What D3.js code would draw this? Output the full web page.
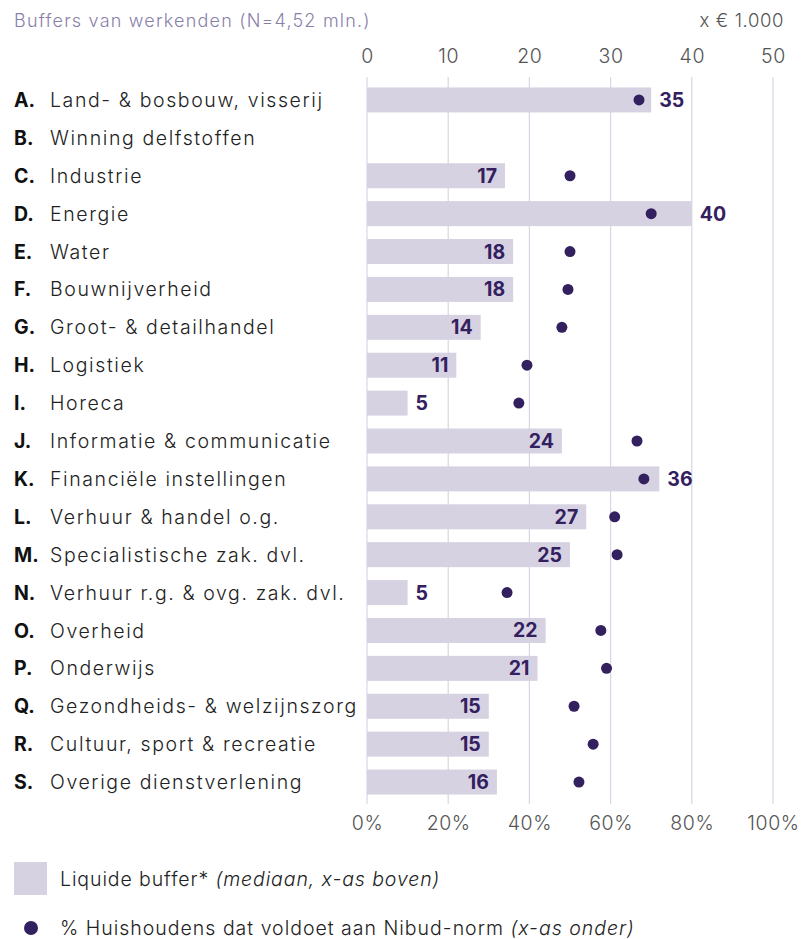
<!DOCTYPE html>
<html>
<head>
<meta charset="utf-8">
<script src="https://cdn.jsdelivr.net/npm/d3@7"></script>
<style>
  body { margin: 0; background: #fff; }
  svg { display: block; font-family: "Inter", "Lato", sans-serif; }
</style>
</head>
<body>
<svg id="chart" width="803" height="939"></svg>
<script>
// Sector codes and names
const codes = ["A.", "B.", "C.", "D.", "E.", "F.", "G.", "H.", "I.", "J.", "K.", "L.", "M.", "N.", "O.", "P.", "Q.", "R.", "S."];
const sectors = [
  "Land- & bosbouw, visserij", "Winning delfstoffen", "Industrie", "Energie", "Water",
  "Bouwnijverheid", "Groot- & detailhandel", "Logistiek", "Horeca", "Informatie & communicatie",
  "Financiële instellingen", "Verhuur & handel o.g.", "Specialistische zak. dvl.",
  "Verhuur r.g. & ovg. zak. dvl.", "Overheid", "Onderwijs", "Gezondheids- & welzijnszorg",
  "Cultuur, sport & recreatie", "Overige dienstverlening"
];
// Median liquid buffer (x € 1.000); null = not shown
const buffer = [35, null, 17, 40, 18, 18, 14, 11, 5, 24, 36, 27, 25, 5, 22, 21, 15, 15, 16];
// Share of households meeting the Nibud norm (%)
const nibud = [67, null, 50, 70, 50, 49.5, 48, 39.4, 37.4, 66.5, 68.2, 61, 61.6, 34.5, 57.6, 59, 51, 55.7, 52.2];
// Axis ticks
const topTicks = [0, 10, 20, 30, 40, 50];
const bottomTicks = [0, 20, 40, 60, 80, 100];

const svg = d3.select("#chart");
const purple = "#33205f";
const barFill = "#d6d2e2";
const gridCol = "#d9d5e5";
const track = 1.6;

const x0 = 367, x1 = 773;
const xTop = d3.scaleLinear().domain([0, 50]).range([x0, x1]);
const xBot = d3.scaleLinear().domain([0, 100]).range([x0, x1]);
const y = d3.scaleBand().domain(d3.range(codes.length)).range([81, 801]);
const barH = 25;

// Title and unit
svg.append("text").attr("x", 14).attr("y", 27).attr("font-size", 18).attr("font-weight", 300)
  .attr("letter-spacing", 1.2).attr("fill", "#8a7fa9").text("Buffers van werkenden (N=4,52 mln.)");
svg.append("text").attr("x", 784).attr("y", 27).attr("text-anchor", "end").attr("font-size", 18.5)
  .attr("font-weight", 300).attr("letter-spacing", 0.6).attr("fill", "#555").text("x € 1.000");

// Gridlines
svg.append("g").selectAll("line").data(topTicks).join("line")
  .attr("x1", d => xTop(d)).attr("x2", d => xTop(d))
  .attr("y1", 77).attr("y2", 804)
  .attr("stroke", gridCol).attr("stroke-width", 1.2);

function styleTicks(g) {
  g.select(".domain").remove();
  g.selectAll("text").attr("font-size", 19.5).attr("font-weight", 300).attr("fill", "#555")
    .attr("font-family", "Inter, sans-serif").attr("letter-spacing", 0.6);
}

// Top axis (buffer)
const gTop = svg.append("g").attr("transform", "translate(0,63)")
  .call(d3.axisTop(xTop).tickValues(topTicks).tickSize(0).tickPadding(0));
styleTicks(gTop);

// Bottom axis (percentage)
const gBot = svg.append("g").attr("transform", "translate(0,816)")
  .call(d3.axisBottom(xBot).tickValues(bottomTicks).tickSize(0).tickPadding(0).tickFormat(d => d + "%"));
styleTicks(gBot);

// Category labels
const rows = svg.append("g").selectAll("g").data(codes).join("g")
  .attr("transform", (d, i) => `translate(0,${y(i) + y.bandwidth() / 2})`);
rows.append("text").attr("x", 14).attr("dy", "0.36em").attr("font-size", 19.5).attr("font-weight", 700)
  .attr("fill", "#111").text(d => d);
rows.append("text").attr("x", 50).attr("dy", "0.36em").attr("font-size", 19.5).attr("font-weight", 300)
  .attr("letter-spacing", track).attr("fill", "#222").text((d, i) => sectors[i]);

const idx = d3.range(codes.length).filter(i => buffer[i] !== null);

// Bars
svg.append("g").selectAll("rect").data(idx).join("rect")
  .attr("x", xTop(0)).attr("y", i => y(i) + (y.bandwidth() - barH) / 2)
  .attr("width", i => xTop(buffer[i]) - xTop(0)).attr("height", barH)
  .attr("fill", barFill);

// Value labels: inside the bar end, or just outside when the bar is short or holds the dot
svg.append("g").selectAll("text").data(idx).join("text")
  .each(function(i) {
    const end = xTop(buffer[i]);
    const outside = buffer[i] < 8 || xBot(nibud[i]) < end;
    d3.select(this)
      .attr("x", outside ? end + 8 : end - 8)
      .attr("text-anchor", outside ? "start" : "end");
  })
  .attr("y", i => y(i) + y.bandwidth() / 2).attr("dy", "0.36em")
  .attr("font-size", 19.5).attr("font-weight", 700).attr("fill", purple)
  .text(i => buffer[i]);

// Dots
svg.append("g").selectAll("circle").data(idx.filter(i => nibud[i] !== null)).join("circle")
  .attr("cx", i => xBot(nibud[i])).attr("cy", i => y(i) + y.bandwidth() / 2)
  .attr("r", 5.5).attr("fill", purple);

// Legend
svg.append("rect").attr("x", 14).attr("y", 862).attr("width", 33).attr("height", 33).attr("fill", barFill);
const l1 = svg.append("text").attr("x", 60).attr("y", 886).attr("font-size", 19.5).attr("font-weight", 300)
  .attr("letter-spacing", 0.9).attr("fill", "#222");
l1.append("tspan").text("Liquide buffer* ");
l1.append("tspan").attr("font-style", "italic").text("(mediaan, x-as boven)");
svg.append("circle").attr("cx", 31).attr("cy", 928).attr("r", 7).attr("fill", purple);
const l2 = svg.append("text").attr("x", 60).attr("y", 935).attr("font-size", 19.5).attr("font-weight", 300)
  .attr("letter-spacing", 1.0).attr("fill", "#222");
l2.append("tspan").text("% Huishoudens dat voldoet aan Nibud-norm ");
l2.append("tspan").attr("font-style", "italic").text("(x-as onder)");
</script>
</body>
</html>
